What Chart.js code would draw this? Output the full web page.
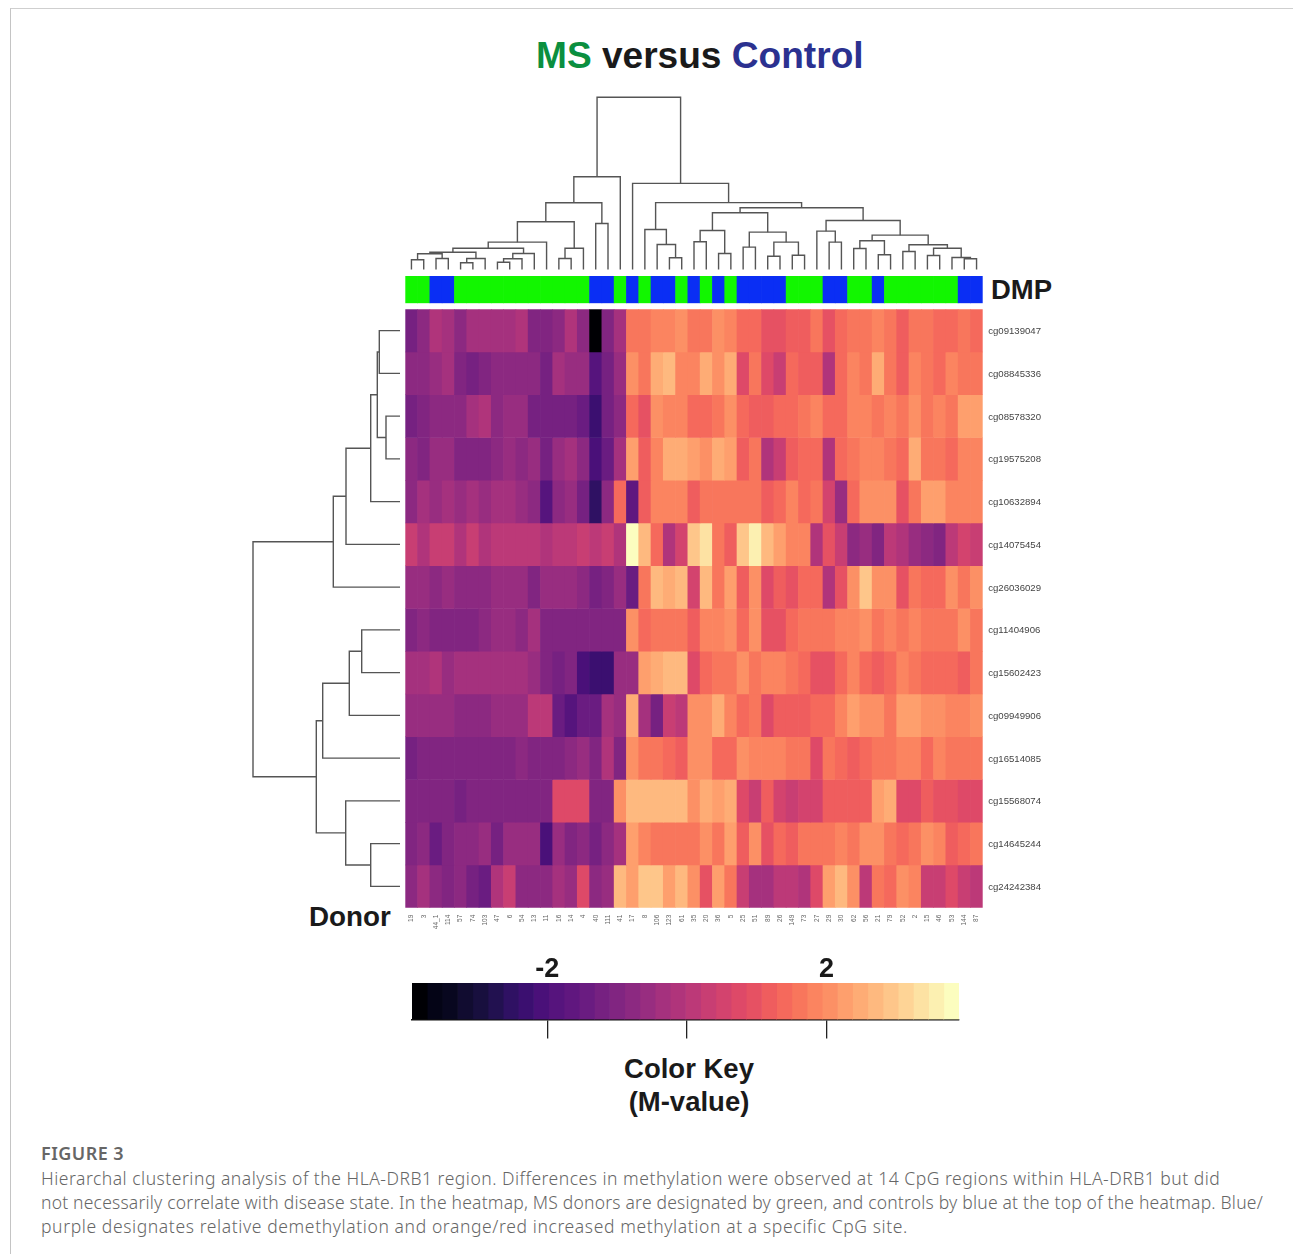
<!DOCTYPE html>
<html>
<head>
<meta charset="utf-8">
<title>MS versus Control</title>
<script src="https://cdn.jsdelivr.net/npm/chart.js@4"></script>
<style>
body { margin: 0; background: #fff; }
#page { position: relative; width: 1293px; height: 1254px; overflow: hidden; font-family: "Liberation Sans", sans-serif; }
canvas { position: absolute; left: 0; top: 0; }
.txt { position: absolute; white-space: nowrap; color: #1a1a1a; font-weight: bold; line-height: 1; }
.cap { position: absolute; left: 41px; white-space: nowrap; color: #666; font: 300 17.5px/24px "Noto Sans", sans-serif; }
#frame { position: absolute; left: 10px; top: 8px; right: 0; bottom: 0; border-top: 1px solid #cfcfcf; border-left: 1px solid #c4c4c4; }
</style>
</head>
<body>
<div id="page">
  <div id="frame"></div>
  <div class="txt" style="left:536px;top:37px;font-size:37.1px"><span style="color:#0b8f3f">MS</span> versus <span style="color:#2b3190">Control</span></div>
  <div class="txt" style="left:991px;top:276px;font-size:27.5px">DMP</div>
  <div class="txt" style="left:309px;top:903px;font-size:27.8px">Donor</div>
  <div class="txt" style="left:489px;width:400px;text-align:center;top:1055px;font-size:27.5px">Color Key</div>
  <div class="txt" style="left:489px;width:400px;text-align:center;top:1088px;font-size:27.5px">(M-value)</div>
  <div class="cap" style="top:1141px;font-size:18px;font-weight:600;letter-spacing:.45px">FIGURE 3</div>
  <div class="cap" style="top:1166px;letter-spacing:.51px">Hierarchal clustering analysis of the HLA-DRB1 region. Differences in methylation were observed at 14 CpG regions within HLA-DRB1 but did</div>
  <div class="cap" style="top:1190px;letter-spacing:.21px">not necessarily correlate with disease state. In the heatmap, MS donors are designated by green, and controls by blue at the top of the heatmap. Blue/</div>
  <div class="cap" style="top:1214px;letter-spacing:.61px">purple designates relative demethylation and orange/red increased methylation at a specific CpG site.</div>
  <canvas id="top-dendro" width="1293" height="1254"></canvas>
  <canvas id="left-dendro" width="1293" height="1254"></canvas>
  <canvas id="dmp-bar" width="1293" height="1254"></canvas>
  <canvas id="heat" width="1293" height="1254"></canvas>
  <canvas id="key" width="1293" height="1254"></canvas>
</div>
<script>
const donors = ["19","3","44_1","114","57","74","103","47","6","54","13","11","16","14","4","40","111","41","17","8","106","123","61","35","20","36","5","25","51","89","26","149","73","27","29","30","62","56","21","79","52","2","15","46","53","144","87"]
const cpgSites = ["cg09139047","cg08845336","cg08578320","cg19575208","cg10632894","cg14075454","cg26036029","cg11404906","cg15602423","cg09949906","cg16514085","cg15568074","cg14645244","cg24242384"]

// M-values, one row per CpG site, donors in plot order
const mValues = [
  [-1.2,-0.7,-0.1,-0.4,-0.7,-0.3,-0.3,-0.3,-0.3,-0.1, -1.0,-1.0,-0.7,-0.1,-0.7,-4,-1.1,-0.4,1.7,1.7, 1.9,1.9,2.1,1.6,1.6,2.1,1.9,1.4,1.4,1.0, 1.0,1.2,1.2,1.6,1.0,1.4,1.7,1.6,1.9,1.6, 1.2,1.6,1.6,1.4,1.4,1.6,1.4],
  [-0.7,-0.7,-0.6,-0.4,-0.9,-1.2,-1.1,-0.8,-0.8,-0.8, -0.8,-1.2,-0.4,-0.6,-0.6,-1.9,-1.3,-0.6,2.0,1.6, 2.4,2.6,1.9,1.9,2.4,2.0,2.5,0.7,1.6,0.7, 0.2,1.4,1.2,1.2,-0.1,1.4,1.9,1.7,2.5,1.6, 1.2,1.9,1.6,1.4,1.9,1.6,1.6],
  [-1.2,-1.1,-0.7,-0.7,-0.7,-0.4,-0.1,-0.7,-0.6,-0.6, -1.2,-1.2,-1.2,-1.2,-1.5,-2.2,-1.3,-0.8,1.5,1.0, 2.0,1.8,1.8,1.5,1.5,1.6,2.0,1.4,1.1,1.1, 1.4,1.4,1.6,1.8,1.4,1.5,1.8,1.8,1.6,1.9, 1.7,2.0,1.7,1.9,1.6,2.2,2.2],
  [-0.7,-1.0,-0.6,-0.6,-0.9,-0.9,-0.9,-0.8,-0.6,-0.8, -0.5,-1.2,-0.5,-0.3,-0.7,-2.0,-1.5,-0.3,2.3,1.2, 1.9,2.4,2.4,2.2,2.0,2.4,2.2,1.2,1.7,-0.1, 0.2,1.2,1.4,1.4,-0.1,1.4,1.7,1.9,1.9,1.7, 1.4,2.5,1.7,1.7,1.4,1.9,1.9],
  [-0.7,-0.4,-0.6,-0.4,-0.6,-0.3,-0.5,-0.3,-0.3,-0.5, -0.7,-1.9,-0.7,-0.5,-1.2,-2.6,-0.8,1.4,-1.7,1.2, 1.9,1.9,1.9,1.1,1.6,1.6,1.7,1.7,1.7,1.2, 1.4,1.9,1.4,1.6,0.5,-0.6,1.4,2.1,2.0,2.0, 1.0,1.7,2.2,2.2,1.9,1.9,1.9],
  [0.2,-0.2,0.4,0.4,-0.1,0.2,-0.1,0.0,0.0,0.0, 0.0,-0.1,0.1,0.1,0.3,0.0,0.3,-0.2,3.9,2.8, 1.4,-0.1,0.5,3.0,3.3,1.7,1.2,3.0,3.6,2.7, 2.2,1.9,1.9,-0.1,1.0,0.3,-0.8,-0.6,-0.9,0.1, -0.1,-0.6,-0.7,-0.9,0.0,0.6,0.3],
  [-0.5,-0.5,-0.8,-0.6,-0.7,-0.7,-0.7,-0.5,-0.5,-0.6, -1.1,-0.6,-0.6,-0.6,-0.7,-1.3,-1.0,-0.6,-1.4,1.7, 2.6,2.4,2.6,0.5,2.6,1.7,2.2,1.1,2.1,0.7, 1.2,1.0,1.4,1.4,-0.2,1.0,2.0,3.0,2.0,2.0, 1.0,1.7,1.5,1.5,2.0,1.7,2.1],
  [-0.9,-0.7,-0.9,-0.9,-0.9,-0.9,-0.8,-0.6,-0.6,-0.8, -0.3,-1.1,-1.1,-1.1,-0.9,-1.1,-1.1,-0.9,2.1,1.4, 1.6,1.6,1.6,1.2,1.9,1.9,2.0,1.4,2.0,1.0, 1.0,1.4,1.6,1.6,1.6,1.8,1.8,2.1,1.6,1.8, 1.6,1.8,1.6,1.6,1.6,2.0,1.6],
  [-0.3,-0.3,-0.1,-0.6,-0.3,-0.3,-0.3,-0.3,-0.3,-0.3, -0.5,-0.9,-1.2,-1.0,-2.0,-2.4,-2.4,-0.6,-0.6,2.2, 2.4,2.6,2.8,0.8,1.5,1.6,1.6,2.0,1.6,1.9, 1.9,1.6,1.4,1.0,1.0,1.4,1.9,1.4,1.2,1.4, 1.9,1.6,1.4,1.4,1.4,1.2,1.6],
  [-0.5,-0.5,-0.5,-0.5,-0.7,-0.7,-0.7,-0.6,-0.6,-0.6, 0.0,0.0,-1.5,-1.9,-1.5,-1.5,-0.3,-0.6,2.4,-0.4, -1.2,0.3,0.1,2.0,2.0,2.4,1.8,1.5,1.7,0.7, 1.2,1.2,1.2,1.4,1.4,1.9,2.3,2.0,2.0,1.7, 2.3,2.3,2.0,2.1,1.9,1.9,2.0],
  [-1.2,-1.0,-1.0,-1.0,-1.0,-1.0,-1.1,-0.9,-1.1,-0.7, -0.9,-1.0,-0.9,-0.7,-0.6,-0.9,-0.1,-1.1,2.0,1.7, 1.7,1.5,1.2,2.1,2.0,1.5,1.5,2.0,1.9,1.9, 1.9,1.7,1.7,0.7,1.7,1.4,1.1,1.4,1.6,1.6, 1.9,1.9,1.4,1.9,1.6,1.6,1.6],
  [-0.9,-0.9,-0.9,-0.9,-1.2,-0.9,-0.9,-0.9,-0.9,-0.9, -0.9,-1.1,0.8,0.8,0.8,-1.1,-0.9,2.1,2.6,2.6, 2.6,2.6,2.6,2.1,2.4,2.3,2.4,0.7,0.4,1.1, 0.5,0.3,0.5,0.5,1.1,1.1,1.1,1.1,2.2,2.4, 0.7,0.7,1.1,0.9,0.9,0.7,0.7],
  [-0.9,-0.7,-1.5,-0.9,-0.7,-0.8,-0.5,-1.2,-0.6,-0.6, -0.6,-2.0,-0.6,-0.9,-0.8,-1.2,-0.8,-0.3,2.3,1.9, 1.6,1.6,1.6,1.6,2.1,1.7,2.2,1.2,2.0,1.0, 1.5,1.1,1.6,1.6,1.6,1.8,1.7,2.0,2.0,1.7, 1.5,1.7,2.0,1.8,1.2,1.5,1.6],
  [-0.7,-0.3,-0.7,-0.9,-0.7,-1.2,-1.5,-0.2,0.2,-0.7, -0.7,-0.7,-0.3,-0.6,0.7,-0.8,-0.6,2.8,2.3,2.9, 2.9,2.2,2.8,2.0,1.0,2.3,1.6,0.3,-0.3,-0.4, 0.0,0.0,-0.2,0.7,2.3,2.6,2.1,0.1,1.6,1.4, 2.0,1.9,0.4,0.4,0.7,0.3,0.0]
]

// M = MS donor, C = control
const dmpGroups = ["M","M","C","C","M","M","M","M","M","M","M","M","M","M","M","C","C","M","C","M","C","C","M","C","M","C","M","C","C","C","C","M","M","M","C","C","M","M","C","M","M","M","M","M","M","C","C"]

// hclust style merges: [left, right, height], a number >= 0 is a leaf, -k is merge k (1 based)
const colMerges = [
  [0,1,9.7],[2,3,11],[-1,-2,15.7],[4,5,6.7],[-4,6,11],[-3,-5,17.3],[7,8,7.3],[-7,9,10.7],[-8,10,16],[-6,-9,21.3],
  [-10,11,27.3],[12,13,11],[-12,14,21.3],[-11,-13,47.7],[15,16,46],[-14,-15,66.7],[-16,17,92.7],[21,22,11.7],[20,-18,25],[19,-19,40],
  [23,24,27.7],[25,26,16],[-21,-22,39],[27,28,22.3],[29,30,13.3],[31,32,14.3],[-25,-26,27.3],[-24,-27,37.3],[-23,-28,56.7],[34,35,27.3],
  [33,-30,38.3],[36,37,21],[38,39,14.7],[-32,-33,28.7],[40,41,18],[42,43,14],[45,46,10.7],[44,-37,12],[-36,-38,21.3],[-35,-39,24.7],
  [-34,-40,34.3],[-31,-41,49],[-29,-42,61.7],[-20,-43,66.8],[18,-44,86],[-17,-45,172]
]
const rowMerges = [
  [0,1,20.7],[2,3,14],[-1,-2,22.7],[-3,4,29.3],[-4,5,54],[-5,6,66.7],[7,8,38.3],[-7,9,50.7],[-8,10,77.3],[12,13,29.3],
  [11,-10,54.3],[-9,-11,83.7],[-6,-12,147]
]

// colour key bands, dark to light
const keyPalette = ["#000004","#040416","#08071f","#110c30","#180f3e","#221150","#2f1163","#3b0f70","#4a1079","#56147d","#60177f","#6a1c81","#762181","#812581","#8c2981","#982d80","#a5317e","#b0347b","#bc3978","#c83e73","#d3436e","#de4968","#e65163","#ef5d5e","#f5695c","#f8765c","#fb8460","#fc9065","#fe9f6d","#feac75","#feb97f","#fec68a","#fed496","#fde2a3","#fcf0b1","#fcfdbf"]
const keyMin = -3.94
const keyMax = 3.9
const keyTicks = [-2, 0, 2]
const keyLabels = [-2, 2]

const cellColor = (v) => {
    const i = Math.floor((v - keyMin) / (keyMax - keyMin) * keyPalette.length)
    return keyPalette[Math.min(keyPalette.length - 1, Math.max(0, i))]
}

// chart area as page coordinates, rest of the canvas is padding
// axes are given a fixed size, so the padding leaves room for them
const box = (left, top, right, bottom, ax = {}) => ({ padding: {
    left,
    top: top - (ax.top || 0),
    right: 1293 - right - (ax.right || 0),
    bottom: 1254 - bottom - (ax.bottom || 0)
} })
const HEAT = { left: 405.3, top: 309.3, right: 982.7, bottom: 907.7 }
const noAxis = { display: false }
const common = { responsive: false, animation: false, events: [], plugins: { legend: { display: false }, tooltip: { enabled: false } } }

// one polyline per merge, child position/height up to the bar and back down
function dendroPaths(merges) {
    const pos = [], ht = []
    const child = (c) => c >= 0 ? [c, 0] : [pos[-c - 1], ht[-c - 1]]
    return merges.map(([a, b, h], k) => {
        const [pa, ha] = child(a)
        const [pb, hb] = child(b)
        pos[k] = (pa + pb) / 2
        ht[k] = h
        return [[pa, ha], [pa, h], [pb, h], [pb, hb]]
    })
}
const lineStyle = { showLine: true, tension: 0, pointRadius: 0, borderColor: '#555', borderWidth: 1.4, clip: false }

new Chart(document.getElementById('top-dendro'), {
    type: 'scatter',
    data: { datasets: dendroPaths(colMerges).map(p => ({ ...lineStyle, data: p.map(([x, y]) => ({ x, y })) })) },
    options: { ...common, layout: box(HEAT.left, 97.3, HEAT.right, 269.5),
        scales: { x: { ...noAxis, min: -0.5, max: donors.length - 0.5 }, y: { ...noAxis, min: 0, max: 172 } } }
})

new Chart(document.getElementById('left-dendro'), {
    type: 'scatter',
    data: { datasets: dendroPaths(rowMerges).map(p => ({ ...lineStyle, data: p.map(([y, x]) => ({ x, y })) })) },
    options: { ...common, layout: box(253, HEAT.top, 400, HEAT.bottom),
        scales: { x: { ...noAxis, reverse: true, min: 0, max: 147 }, y: { ...noAxis, reverse: true, min: -0.5, max: cpgSites.length - 0.5 } } }
})

new Chart(document.getElementById('dmp-bar'), {
    type: 'bar',
    data: { labels: donors, datasets: [{
        data: donors.map(() => 1),
        backgroundColor: dmpGroups.map(g => g === "M" ? '#12f600' : '#0a2ef4'),
        barPercentage: 1, categoryPercentage: 1
    }] },
    options: { ...common, layout: box(HEAT.left, 276, HEAT.right, 303.3),
        scales: { x: noAxis, y: { ...noAxis, min: 0, max: 1 } } }
})

new Chart(document.getElementById('heat'), {
    type: 'bar',
    data: { labels: donors, datasets: mValues.map(row => ({
        data: row.map(() => 1),
        backgroundColor: row.map(cellColor),
        barPercentage: 1, categoryPercentage: 1
    })) },
    options: { ...common, layout: box(HEAT.left, HEAT.top, HEAT.right, HEAT.bottom, { bottom: 30, right: 70 }),
        scales: {
            x: { stacked: true, afterFit: (s) => { s.height = 30 },
                grid: { display: false, drawTicks: false }, border: { display: false },
                ticks: { autoSkip: false, minRotation: 90, maxRotation: 90, padding: 7, color: '#666', font: { family: 'Liberation Sans', size: 6.5 } } },
            y: { stacked: true, reverse: true, min: 0, max: cpgSites.length, position: 'right', afterFit: (s) => { s.width = 70 },
                // labels sit a touch under the row centre in the original
                afterBuildTicks: (s) => { s.ticks = cpgSites.map((_, i) => ({ value: i + 0.52 })) },
                grid: { display: false, drawTicks: false }, border: { display: false },
                ticks: { autoSkip: false, padding: 5.5, color: '#444', font: { family: 'Liberation Sans', size: 9.6 },
                    callback: (v) => cpgSites[Math.floor(v)] } }
        } }
})

const bandWidth = (keyMax - keyMin) / keyPalette.length
new Chart(document.getElementById('key'), {
    type: 'bar',
    data: { labels: ['key'], datasets: keyPalette.map((c, i) => ({
        data: [[keyMin + i * bandWidth, keyMin + (i + 1) * bandWidth]],
        backgroundColor: c, barPercentage: 1, categoryPercentage: 1, grouped: false
    })) },
    options: { ...common, indexAxis: 'y', layout: box(412, 983, 959, 1019.5, { top: 45, bottom: 30 }),
        scales: {
            x: { min: keyMin, max: keyMax, position: 'bottom', afterFit: (s) => { s.height = 30 },
                afterBuildTicks: (s) => { s.ticks = keyTicks.map(value => ({ value })) },
                grid: { drawOnChartArea: false, tickLength: 19, color: '#222', lineWidth: 1.3 },
                border: { color: '#111', width: 1.5 },
                ticks: { display: false } },
            xTop: { axis: 'x', min: keyMin, max: keyMax, position: 'top', afterFit: (s) => { s.height = 45 },
                afterBuildTicks: (s) => { s.ticks = keyLabels.map(value => ({ value })) },
                grid: { display: false, drawTicks: false }, border: { display: false },
                ticks: { padding: -3, maxRotation: 0, color: '#1a1a1a', font: { family: 'Liberation Sans', size: 27, weight: 'bold' } } },
            y: noAxis
        } }
})
</script>
</body>
</html>
